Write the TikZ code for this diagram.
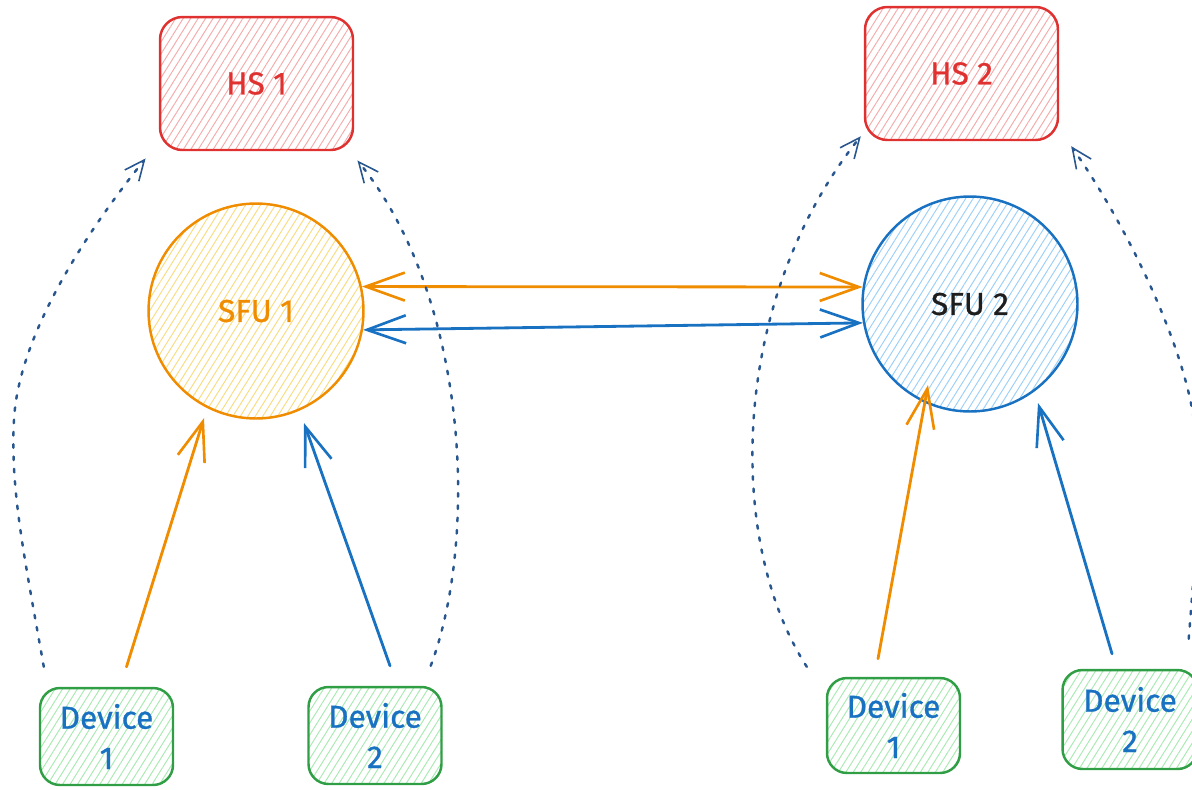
\documentclass[tikz,border=0pt]{standalone}
\usepackage{fontspec}
\setmainfont{Fira Sans}
\newfontfamily\labelfont{Fira Sans}[FakeBold=0.9]
\usetikzlibrary{arrows.meta,patterns.meta,calc}

\definecolor{exred}{HTML}{E03131}
\definecolor{exredl}{HTML}{F4ABAB}
\definecolor{exorange}{HTML}{F08C00}
\definecolor{exorangel}{HTML}{F8DC80}
\definecolor{exblue}{HTML}{1971C2}
\definecolor{exbluel}{HTML}{9CD0F8}
\definecolor{exgreen}{HTML}{2F9E44}
\definecolor{exgreenl}{HTML}{A8EAB2}
\definecolor{exink}{HTML}{1E1E1E}
\definecolor{dotblue}{HTML}{28568F}

\tikzset{
  bigbarb/.tip={Straight Barb[length=0.78cm,width=0.56cm,line width=1.5pt]},
  smallbarb/.tip={Straight Barb[length=0.4cm,width=0.36cm,line width=0.9pt]},
  hatch/.style={pattern={Lines[angle=58,distance=3.6pt,line width=0.55pt]}, pattern color=#1},
  shape base/.style={line width=1.4pt, align=center, inner sep=0pt,
    font=\labelfont\fontsize{18}{23}\selectfont},
  hsbox/.style={shape base, draw=exred, hatch=exredl, text=exred,
    rectangle, rounded corners=0.45cm, minimum width=3.86cm, minimum height=2.66cm},
  devbox/.style={shape base, draw=exgreen, hatch=exgreenl, text=exblue,
    rectangle, rounded corners=0.4cm, minimum width=2.66cm, minimum height=1.94cm},
  sfu/.style={shape base, circle, minimum size=4.3cm},
  flow/.style={line width=1.6pt, line cap=round},
  link/.style={dotblue, line width=1.4pt, line cap=round,
    dash pattern=on 2pt off 5pt, -smallbarb}
}

\begin{document}
\begin{tikzpicture}[x=0.02cm, y=-0.02cm]
\useasboundingbox (0,0) rectangle (1192,789);

% home servers
\node[hsbox] (hs1) at (256.5,83.5) {HS 1};
\node[hsbox] (hs2) at (961.5,73.5) {HS 2};

% forwarding units
\node[sfu, draw=exorange, hatch=exorangel, text=exorange] (sfu1) at (256,311) {SFU 1};
\node[sfu, draw=exblue, hatch=exbluel, text=exink] (sfu2) at (970,304) {SFU 2};

% devices
\node[devbox] (d1a) at (106.5,736.5) {Device\\1};
\node[devbox] (d2a) at (375,735.5) {Device\\2};
\node[devbox, minimum height=1.9cm] (d1b) at (893.5,725.5) {Device\\1};
\node[devbox, minimum width=2.7cm, minimum height=1.98cm] (d2b) at (1130,719.5) {Device\\2};

% links between the two SFUs
\draw[flow, exorange, bigbarb-bigbarb] (sfu1.13) -- (sfu2.171);
\draw[flow, exblue, bigbarb-bigbarb] (sfu1.-10) -- (sfu2.190);

% media from devices to their SFU
\draw[flow, exorange, -bigbarb] ($(d1a.north)+(20,-20)$) -- ($(sfu1.center)+(-52,107)$);
\draw[flow, exblue, -bigbarb] ($(d2a.north)+(15,-20)$) -- ($(sfu1.center)+(48,112)$);
\draw[flow, exorange, -bigbarb] ($(d1b.north)+(-15.5,-18)$) -- ($(sfu2.center)+(-42,81)$);
\draw[flow, exblue, -bigbarb] ($(d2b.north)+(-18,-15)$) -- ($(sfu2.center)+(68,99)$);

% signalling from devices to their home server
\draw[link] ($(d1a.north west)+(5,-20)$)
  .. controls (25,560) and (10,490) .. (14,420)
  .. controls (18,340) and (80,240) .. ($(hs1.south west)+(-14,8)$);
\draw[link] ($(d2a.north east)+(-12,-20)$)
  .. controls (478,540) and (470,300) .. ($(hs1.south east)+(4,10)$);
\draw[link] ($(d1b.north west)+(-19,-10)$)
  .. controls (725,540) and (730,300) .. ($(hs2.south west)+(-3,-5)$);
\draw[link] ($(d2b.north east)+(-10,-30)$)
  .. controls (1195,560) and (1200,500) .. (1196,440)
  .. controls (1192,360) and (1130,230) .. ($(hs2.south east)+(12,5)$);
\end{tikzpicture}
\end{document}
